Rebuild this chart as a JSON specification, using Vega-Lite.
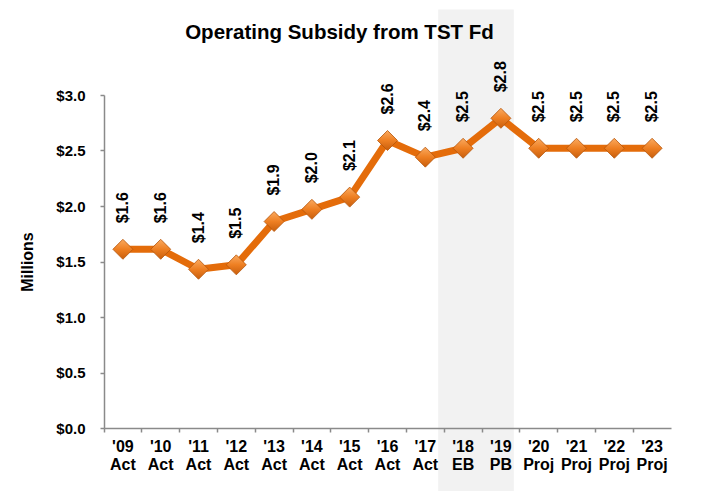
{
  "$schema": "https://vega.github.io/schema/vega-lite/v6.json",
  "width": 567,
  "height": 333,
  "autosize": "none",
  "padding": {"left": 104, "top": 95, "right": 40, "bottom": 63},
  "background": "white",
  "config": {"view": {"stroke": null}, "font": "Liberation Sans"},
  "title": {"text": "Operating Subsidy from TST Fd", "fontSize": 20.5, "fontWeight": "bold", "font": "Liberation Sans", "anchor": "middle", "dx": -48, "offset": -34, "color": "black"},
  "datasets": {
    "subsidy": [
      {"year": "'09 Act", "value": 1.61},
      {"year": "'10 Act", "value": 1.61},
      {"year": "'11 Act", "value": 1.43},
      {"year": "'12 Act", "value": 1.47},
      {"year": "'13 Act", "value": 1.86},
      {"year": "'14 Act", "value": 1.97},
      {"year": "'15 Act", "value": 2.08},
      {"year": "'16 Act", "value": 2.59},
      {"year": "'17 Act", "value": 2.44},
      {"year": "'18 EB", "value": 2.52},
      {"year": "'19 PB", "value": 2.79},
      {"year": "'20 Proj", "value": 2.52},
      {"year": "'21 Proj", "value": 2.52},
      {"year": "'22 Proj", "value": 2.52},
      {"year": "'23 Proj", "value": 2.52}
    ],
    "highlight": [
      {"year": "'18 EB"},
      {"year": "'19 PB"}
    ]
  },
  "encoding": {
    "x": {
      "field": "year",
      "type": "nominal",
      "sort": null,
      "title": null,
      "scale": {
        "domain": ["'09 Act", "'10 Act", "'11 Act", "'12 Act", "'13 Act", "'14 Act", "'15 Act", "'16 Act", "'17 Act", "'18 EB", "'19 PB", "'20 Proj", "'21 Proj", "'22 Proj", "'23 Proj"],
        "paddingInner": 0,
        "paddingOuter": 0
      },
      "axis": {
        "labelAngle": 0,
        "labelExpr": "split(datum.label, ' ')",
        "labelFontSize": 16,
        "labelFontWeight": "bold",
        "labelColor": "black",
        "labelLineHeight": 18,
        "labelPadding": 6,
        "labelBaseline": "top",
        "tickSize": 4,
        "bandPosition": 0,
        "domainColor": "#8a8a8a",
        "domainWidth": 1.5,
        "tickColor": "#8a8a8a",
        "tickWidth": 1.5,
        "grid": false
      }
    }
  },
  "layer": [
    {
      "data": {"name": "highlight"},
      "mark": {"type": "rect", "color": "#F2F2F2", "xOffset": -6},
      "encoding": {
        "y": {"datum": 3.77, "type": "quantitative", "scale": {"domain": [0, 3]}},
        "y2": {"datum": -0.57}
      }
    },
    {
      "data": {"name": "subsidy"},
      "mark": {"type": "line", "color": "#E46C0A", "strokeWidth": 7, "strokeJoin": "round"},
      "encoding": {
        "y": {
          "field": "value",
          "type": "quantitative",
          "title": "Millions",
          "scale": {"domain": [0, 3]},
          "axis": {
            "values": [0, 0.5, 1, 1.5, 2, 2.5, 3],
            "format": "$.1f",
            "labelFontSize": 15,
            "labelFontWeight": "bold",
            "labelColor": "black",
            "labelPadding": 15,
            "tickSize": 4,
            "domainColor": "#8a8a8a",
            "domainWidth": 1.5,
            "tickColor": "#8a8a8a",
            "tickWidth": 1.5,
            "grid": false,
            "titleFontSize": 16,
            "titleFontWeight": "bold",
            "titleColor": "black",
            "titlePadding": 20
          }
        }
      }
    },
    {
      "data": {"name": "subsidy"},
      "mark": {
        "type": "point",
        "shape": "diamond",
        "filled": true,
        "size": 400,
        "opacity": 1,
        "fill": {"gradient": "linear", "x1": 0, "y1": 0, "x2": 0, "y2": 1, "stops": [{"offset": 0, "color": "#FAAA60"}, {"offset": 0.5, "color": "#EE7F22"}, {"offset": 1, "color": "#C85E0C"}]},
        "stroke": "#B5560B",
        "strokeWidth": 0.8
      },
      "encoding": {
        "y": {"field": "value", "type": "quantitative"}
      }
    },
    {
      "data": {"name": "subsidy"},
      "mark": {"type": "text", "angle": 270, "align": "left", "baseline": "middle", "dx": 26, "fontSize": 16, "fontWeight": "bold", "color": "black"},
      "encoding": {
        "y": {"field": "value", "type": "quantitative"},
        "text": {"field": "value", "format": "$.1f"}
      }
    }
  ]
}
